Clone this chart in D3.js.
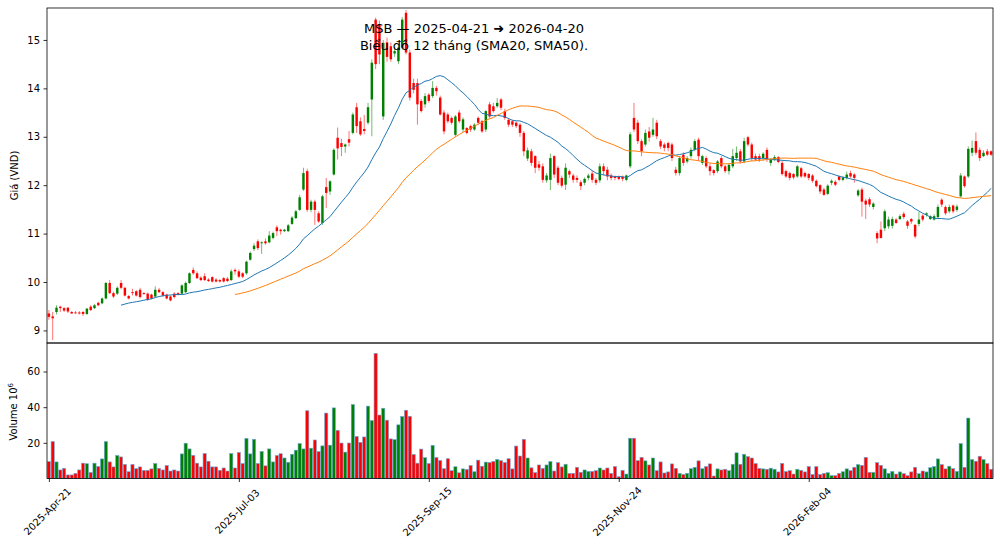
<!DOCTYPE html>
<html>
<head>
<meta charset="utf-8">
<script src="https://cdn.jsdelivr.net/npm/d3@7"></script>
<style>
  body { margin: 0; background: #fff; }
  text { font-family: "DejaVu Sans", sans-serif; }
</style>
</head>
<body>
<div id="chart"></div>
<script>
const title1 = "MSB — 2025-04-21 ➜ 2026-04-20";
const title2 = "Biểu đồ 12 tháng (SMA20, SMA50).";

// tick positions are bar indexes (trading days)
const tickIdx = [0, 50, 100, 150, 200];
const tickLabels = ["2025-Apr-21", "2025-Jul-03", "2025-Sep-15", "2025-Nov-24", "2026-Feb-04"];

const open = [
  9.35, 9.29, 9.38, 9.49, 9.46, 9.47, 9.38, 9.37, 9.37, 9.38,
  9.34, 9.49, 9.46, 9.57, 9.56, 9.66, 9.98, 9.77, 9.76, 9.98,
  9.88, 9.71, 9.79, 9.81, 9.84, 9.77, 9.76, 9.74, 9.70, 9.84,
  9.79, 9.74, 9.70, 9.76, 9.77, 9.76, 9.79, 9.98, 10.25, 10.18,
  10.09, 10.12, 10.05, 10.10, 10.05, 10.04, 10.08, 10.07, 10.04, 10.25,
  10.22, 10.18, 10.18, 10.46, 10.68, 10.84, 10.80, 10.84, 10.82, 10.91,
  11.13, 11.08, 11.05, 11.05, 11.20, 11.32, 11.49, 11.91, 12.29, 11.49,
  11.66, 11.42, 11.22, 11.96, 11.87, 12.22, 12.98, 12.87, 12.80, 12.95,
  13.08, 13.61, 13.32, 13.16, 13.29, 13.77, 15.42, 15.32, 13.42, 14.95,
  14.87, 14.72, 14.56, 14.84, 15.56, 14.74, 14.11, 14.11, 13.74, 13.67,
  13.87, 13.84, 14.01, 13.81, 13.50, 13.46, 13.39, 13.04, 13.50, 13.15,
  13.18, 13.22, 13.15, 13.39, 13.32, 13.15, 13.67, 13.63, 13.63, 13.77,
  13.53, 13.35, 13.32, 13.29, 13.25, 13.08, 12.55, 12.70, 12.60, 12.43,
  12.39, 12.10, 12.11, 12.60, 12.36, 12.15, 12.01, 12.29, 12.20, 12.15,
  12.06, 12.05, 12.15, 12.24, 12.11, 12.10, 12.39, 12.32, 12.20, 12.18,
  12.17, 12.17, 12.11, 12.39, 13.39, 13.29, 12.91, 12.84, 13.11, 13.04,
  13.29, 12.91, 12.84, 12.87, 12.84, 12.32, 12.25, 12.63, 12.49, 12.60,
  12.73, 12.94, 12.46, 12.56, 12.39, 12.31, 12.29, 12.56, 12.39, 12.29,
  12.39, 12.56, 12.70, 12.49, 12.99, 12.84, 12.60, 12.60, 12.56, 12.73,
  12.46, 12.53, 12.58, 12.46, 12.29, 12.25, 12.23, 12.18, 12.35, 12.25,
  12.23, 12.20, 12.09, 12.00, 11.91, 11.82, 12.05, 12.07, 12.18, 12.11,
  12.15, 12.25, 12.22, 11.79, 11.91, 11.68, 11.71, 11.55, 11.01, 11.08,
  11.11, 11.15, 11.16, 11.29, 11.30, 11.41, 11.25, 11.30, 11.18, 11.20,
  11.37, 11.39, 11.30, 11.29, 11.34, 11.70, 11.55, 11.46, 11.58, 11.49,
  11.77, 12.18, 12.18, 12.67, 12.91, 12.73, 12.60, 12.70, 12.70
];
const high = [
  9.42, 9.38, 9.52, 9.51, 9.48, 9.48, 9.40, 9.40, 9.40, 9.40,
  9.46, 9.52, 9.55, 9.59, 9.68, 10.00, 10.04, 9.80, 9.91, 10.04,
  9.90, 9.73, 9.86, 9.83, 9.88, 9.79, 9.78, 9.76, 9.91, 9.88,
  9.81, 9.76, 9.72, 9.79, 9.79, 9.95, 10.01, 10.20, 10.30, 10.22,
  10.12, 10.18, 10.08, 10.12, 10.08, 10.06, 10.10, 10.10, 10.26, 10.28,
  10.26, 10.20, 10.44, 10.63, 10.80, 10.88, 10.84, 10.90, 11.05, 11.04,
  11.17, 11.10, 11.10, 11.20, 11.36, 11.49, 11.80, 12.36, 12.34, 11.70,
  11.70, 11.46, 11.80, 12.15, 12.10, 12.76, 13.19, 12.96, 12.86, 13.12,
  13.50, 13.70, 13.40, 13.45, 13.70, 14.60, 15.46, 15.40, 15.00, 15.05,
  14.95, 14.85, 14.90, 15.47, 15.62, 14.80, 14.20, 14.20, 13.78, 13.90,
  13.90, 14.15, 14.05, 13.85, 13.55, 13.50, 13.42, 13.45, 13.55, 13.40,
  13.20, 13.25, 13.28, 13.42, 13.35, 13.55, 13.72, 13.70, 13.80, 13.80,
  13.58, 13.38, 13.35, 13.32, 13.28, 13.12, 12.78, 12.75, 12.62, 12.50,
  12.45, 12.25, 12.65, 12.62, 12.40, 12.20, 12.45, 12.32, 12.24, 12.20,
  12.10, 12.16, 12.24, 12.30, 12.15, 12.45, 12.45, 12.38, 12.24, 12.20,
  12.20, 12.20, 12.22, 13.10, 13.70, 13.35, 12.95, 13.15, 13.20, 13.39,
  13.35, 12.95, 12.88, 12.90, 12.88, 12.38, 12.60, 12.68, 12.60, 12.78,
  12.95, 12.98, 12.63, 12.60, 12.45, 12.33, 12.52, 12.60, 12.42, 12.45,
  12.75, 12.80, 12.75, 12.98, 13.02, 12.88, 12.65, 12.65, 12.68, 12.78,
  12.56, 12.62, 12.60, 12.50, 12.32, 12.28, 12.25, 12.42, 12.38, 12.28,
  12.25, 12.23, 12.12, 12.02, 11.95, 12.02, 12.12, 12.10, 12.20, 12.18,
  12.28, 12.30, 12.25, 11.92, 11.95, 11.72, 11.75, 11.65, 11.05, 11.25,
  11.50, 11.35, 11.35, 11.32, 11.40, 11.45, 11.28, 11.32, 11.20, 11.45,
  11.40, 11.44, 11.38, 11.40, 11.60, 11.73, 11.58, 11.60, 11.60, 11.60,
  12.25, 12.20, 12.80, 12.92, 13.09, 12.78, 12.72, 12.75, 12.72
];
const low = [
  9.22, 8.80, 9.33, 9.38, 9.38, 9.36, 9.34, 9.34, 9.33, 9.30,
  9.32, 9.40, 9.44, 9.50, 9.54, 9.64, 9.75, 9.67, 9.73, 9.85,
  9.70, 9.64, 9.72, 9.70, 9.66, 9.74, 9.61, 9.64, 9.68, 9.77,
  9.70, 9.64, 9.60, 9.66, 9.72, 9.74, 9.77, 9.96, 10.15, 10.06,
  10.02, 10.02, 10.00, 9.99, 9.99, 9.99, 9.99, 10.00, 10.02, 10.15,
  10.08, 10.08, 10.15, 10.44, 10.64, 10.66, 10.58, 10.77, 10.80, 10.88,
  10.95, 10.98, 11.03, 11.03, 11.18, 11.30, 11.47, 11.88, 11.45, 11.44,
  11.18, 11.22, 11.18, 11.53, 11.80, 12.20, 12.53, 12.60, 12.67, 12.80,
  13.05, 13.08, 13.02, 13.05, 13.25, 13.01, 14.40, 14.50, 13.35, 14.55,
  14.55, 14.65, 14.50, 14.80, 14.70, 13.75, 13.90, 13.25, 13.50, 13.60,
  13.70, 13.80, 13.85, 13.44, 13.05, 13.28, 13.25, 13.00, 13.28, 13.10,
  13.05, 13.10, 13.12, 13.25, 13.08, 13.10, 13.38, 13.50, 13.60, 13.55,
  13.35, 13.20, 13.20, 13.18, 13.00, 12.60, 12.50, 12.40, 12.25, 12.30,
  12.05, 12.05, 11.90, 12.15, 12.00, 11.95, 11.90, 12.15, 12.05, 12.05,
  11.90, 12.00, 12.10, 12.05, 12.00, 12.05, 12.20, 12.10, 12.10, 12.10,
  12.10, 12.08, 12.08, 12.35, 13.10, 12.85, 12.60, 12.80, 12.90, 13.00,
  12.95, 12.75, 12.70, 12.70, 12.50, 12.20, 12.20, 12.40, 12.45, 12.55,
  12.70, 12.50, 12.42, 12.35, 12.20, 12.20, 12.25, 12.35, 12.25, 12.22,
  12.35, 12.50, 12.45, 12.45, 12.80, 12.50, 12.50, 12.48, 12.50, 12.48,
  12.40, 12.50, 12.45, 12.20, 12.15, 12.10, 12.12, 12.15, 12.15, 12.15,
  12.10, 12.05, 11.95, 11.82, 11.78, 11.80, 12.00, 11.98, 12.08, 12.08,
  12.12, 12.15, 12.05, 11.76, 11.35, 11.30, 11.55, 11.50, 10.80, 10.90,
  11.05, 11.10, 11.10, 11.20, 11.28, 11.30, 11.10, 11.20, 10.90, 11.15,
  11.25, 11.35, 11.28, 11.27, 11.30, 11.55, 11.38, 11.42, 11.42, 11.45,
  11.74, 11.95, 12.15, 12.60, 12.62, 12.50, 12.58, 12.60, 12.60
];
const close = [
  9.28, 9.25, 9.47, 9.46, 9.41, 9.39, 9.35, 9.36, 9.35, 9.34,
  9.45, 9.42, 9.52, 9.52, 9.66, 9.98, 9.77, 9.70, 9.88, 9.88,
  9.72, 9.66, 9.77, 9.72, 9.69, 9.75, 9.63, 9.66, 9.84, 9.79,
  9.72, 9.66, 9.62, 9.69, 9.74, 9.93, 9.98, 10.18, 10.18, 10.08,
  10.04, 10.04, 10.02, 10.01, 10.01, 10.01, 10.01, 10.02, 10.22, 10.22,
  10.11, 10.11, 10.42, 10.60, 10.75, 10.70, 10.82, 10.80, 10.96, 11.01,
  11.05, 11.05, 11.08, 11.17, 11.33, 11.46, 11.75, 12.25, 11.49, 11.66,
  11.49, 11.25, 11.77, 11.84, 12.08, 12.73, 12.76, 12.79, 12.84, 12.88,
  13.46, 13.22, 13.05, 13.12, 13.61, 14.53, 14.50, 14.70, 14.94, 14.65,
  14.60, 14.77, 14.84, 15.42, 14.74, 13.81, 13.97, 13.67, 13.53, 13.84,
  13.74, 14.01, 13.94, 13.46, 13.11, 13.32, 13.29, 13.42, 13.32, 13.36,
  13.08, 13.15, 13.25, 13.29, 13.11, 13.53, 13.42, 13.53, 13.70, 13.60,
  13.39, 13.25, 13.25, 13.22, 13.08, 12.70, 12.72, 12.46, 12.36, 12.36,
  12.11, 12.20, 12.56, 12.22, 12.05, 11.99, 12.36, 12.22, 12.11, 12.11,
  11.98, 12.13, 12.20, 12.11, 12.05, 12.39, 12.29, 12.18, 12.15, 12.15,
  12.13, 12.13, 12.20, 13.05, 13.15, 12.91, 12.70, 13.08, 12.98, 13.15,
  13.01, 12.80, 12.77, 12.77, 12.56, 12.25, 12.56, 12.46, 12.56, 12.73,
  12.91, 12.60, 12.60, 12.39, 12.29, 12.25, 12.49, 12.39, 12.29, 12.42,
  12.60, 12.67, 12.49, 12.91, 12.84, 12.56, 12.53, 12.53, 12.65, 12.53,
  12.53, 12.58, 12.48, 12.23, 12.18, 12.15, 12.16, 12.39, 12.18, 12.18,
  12.15, 12.09, 11.98, 11.87, 11.80, 11.99, 12.09, 12.01, 12.11, 12.16,
  12.22, 12.18, 12.15, 11.89, 11.66, 11.60, 11.60, 11.62, 10.90, 10.91,
  11.46, 11.29, 11.30, 11.22, 11.36, 11.34, 11.16, 11.25, 10.94, 11.29,
  11.29, 11.42, 11.36, 11.36, 11.55, 11.60, 11.42, 11.55, 11.46, 11.56,
  12.20, 11.98, 12.75, 12.77, 12.67, 12.56, 12.67, 12.63, 12.63
];
// volume in millions of shares
const volume = [
  9.5, 20.7, 9.3, 4.8, 5.7, 2.0, 2.0, 2.9, 4.8, 8.6,
  8.3, 3.4, 8.6, 6.7, 11.0, 20.7, 9.3, 6.5, 12.9, 12.1,
  7.9, 3.8, 7.9, 5.5, 6.5, 4.6, 4.6, 5.4, 8.4, 5.7,
  4.8, 7.3, 4.2, 4.8, 4.2, 13.8, 19.8, 16.6, 13.0, 8.6,
  6.5, 14.0, 9.7, 6.5, 6.5, 4.6, 5.9, 4.2, 14.0, 5.9,
  14.6, 8.4, 22.5, 13.8, 22.0, 8.4, 15.2, 7.1, 16.6, 9.3,
  12.9, 13.9, 11.5, 9.1, 13.6, 15.9, 19.6, 16.6, 38.0, 17.0,
  21.6, 15.1, 18.3, 36.7, 18.7, 39.6, 27.0, 19.9, 14.8, 19.9,
  41.5, 23.6, 20.3, 23.3, 40.6, 32.5, 70.2, 35.6, 39.4, 32.7,
  22.2, 21.8, 30.1, 34.8, 38.3, 34.9, 13.5, 8.6, 16.5, 11.7,
  8.4, 18.6, 11.8, 10.1, 5.5, 11.1, 4.4, 6.6, 3.2, 5.4,
  5.1, 7.3, 3.8, 10.3, 6.9, 9.2, 9.0, 9.6, 10.7, 10.0,
  9.0, 11.1, 5.4, 18.2, 12.6, 22.0, 11.5, 6.0, 3.3, 7.6,
  5.7, 7.6, 9.5, 4.2, 8.9, 6.5, 8.0, 2.9, 2.9, 6.3,
  3.5, 4.8, 4.0, 4.0, 4.4, 5.9, 4.8, 5.9, 2.9, 6.7,
  1.0, 4.6, 2.5, 22.6, 22.6, 10.0, 11.9, 9.9, 7.6, 11.5,
  4.4, 9.3, 3.1, 3.7, 8.2, 5.7, 2.9, 2.3, 2.9, 5.5,
  6.3, 9.9, 5.5, 6.7, 8.2, 1.4, 5.4, 4.8, 5.2, 4.4,
  8.0, 14.4, 8.0, 13.6, 12.3, 11.5, 8.4, 5.7, 5.4, 5.2,
  5.8, 5.2, 3.7, 8.5, 3.9, 4.4, 2.5, 5.2, 4.6, 3.7,
  6.7, 2.3, 6.7, 2.3, 2.9, 3.3, 1.6, 1.6, 2.9, 3.8,
  5.4, 4.4, 6.3, 7.8, 7.4, 11.9, 3.5, 3.5, 8.9, 7.4,
  5.4, 2.9, 4.0, 2.5, 3.7, 2.7, 1.6, 3.7, 6.3, 2.7,
  4.2, 3.7, 6.1, 6.7, 11.0, 7.8, 5.4, 6.9, 5.5, 4.0,
  19.6, 6.3, 33.9, 10.6, 9.7, 12.5, 10.6, 8.4, 5.2
];

const priceTicks = [9, 10, 11, 12, 13, 14, 15];
const volTicks = [20, 40, 60];

const W = 1000, H = 551;
const left = 47, right = 993;
const pTop = 8, pBot = 343, vTop = 343, vBot = 478.5;

const data = close.map((c, i) => ({ i, o: open[i], h: high[i], l: low[i], c, v: volume[i] }));

const sma = (n) => data.map((d, i) => i < n - 1 ? null : d3.mean(close.slice(i - n + 1, i + 1)));
const sma20 = sma(20), sma50 = sma(50);

const x = d3.scaleLinear().domain([-0.5, data.length - 0.5]).range([left, right]);
const y = d3.scaleLinear().domain([8.74, 15.66]).range([pBot, pTop]);
const yv = d3.scaleLinear().domain([0, 76]).range([vBot, vTop]);
const step = x(1) - x(0);

const up = "#008000", down = "#ff0000";
const col = d => d.c >= d.o ? up : down;

const svg = d3.select("#chart").append("svg")
  .attr("width", W)
  .attr("height", H)
  .style("display", "block");

svg.append("rect").attr("width", W).attr("height", H).attr("fill", "#fff");

// --- price panel
const gP = svg.append("g");

gP.append("g").selectAll("line")
  .data(data).enter().append("line")
  .attr("x1", d => x(d.i)).attr("x2", d => x(d.i))
  .attr("y1", d => y(d.h)).attr("y2", d => y(d.l))
  .attr("stroke", col)
  .attr("stroke-opacity", 0.55)
  .attr("stroke-width", 1);

gP.append("g").selectAll("rect")
  .data(data).enter().append("rect")
  .attr("x", d => x(d.i) - step * 0.32)
  .attr("width", step * 0.64)
  .attr("y", d => y(Math.max(d.o, d.c)))
  .attr("height", d => Math.max(0.8, Math.abs(y(d.o) - y(d.c))))
  .attr("fill", col);

const line = d3.line()
  .defined(d => d != null)
  .x((d, i) => x(i))
  .y(d => y(d));

gP.append("path").datum(sma20)
  .attr("d", line)
  .attr("fill", "none")
  .attr("stroke", "#1f77b4")
  .attr("stroke-width", 1);

gP.append("path").datum(sma50)
  .attr("d", line)
  .attr("fill", "none")
  .attr("stroke", "#ff7f0e")
  .attr("stroke-width", 1);

const yAxis = d3.axisLeft(y).tickValues(priceTicks).tickFormat(d3.format("d"))
  .tickSize(3.5).tickPadding(3.5);
gP.append("g")
  .attr("transform", `translate(${left},0)`)
  .call(yAxis)
  .call(g => g.select(".domain").remove())
  .call(g => g.selectAll("text").attr("font-size", 10).attr("fill", "#000").attr("font-family", "DejaVu Sans"))
  .call(g => g.selectAll("line").attr("stroke", "#000").attr("stroke-width", 0.8));

gP.append("rect")
  .attr("x", left).attr("y", pTop)
  .attr("width", right - left).attr("height", pBot - pTop)
  .attr("fill", "none").attr("stroke", "#000").attr("stroke-width", 0.8);

gP.append("text")
  .attr("transform", `translate(18,${(pTop + pBot) / 2}) rotate(-90)`)
  .attr("text-anchor", "middle")
  .attr("font-size", 10)
  .text("Giá (VND)");

// title
svg.append("text").attr("x", 474).attr("y", 33)
  .attr("text-anchor", "middle").attr("font-size", 13).text(title1);
svg.append("text").attr("x", 474).attr("y", 50)
  .attr("text-anchor", "middle").attr("font-size", 13).text(title2);

// --- volume panel
const gV = svg.append("g");

gV.append("g").selectAll("rect")
  .data(data).enter().append("rect")
  .attr("x", d => x(d.i) - step * 0.42)
  .attr("width", step * 0.84)
  .attr("y", d => yv(d.v))
  .attr("height", d => yv(0) - yv(d.v))
  .attr("fill", col)
  .attr("stroke", "#6fa8dc")
  .attr("stroke-width", 0.6);

const vAxis = d3.axisLeft(yv).tickValues(volTicks).tickSize(3.5).tickPadding(3.5);
gV.append("g")
  .attr("transform", `translate(${left},0)`)
  .call(vAxis)
  .call(g => g.select(".domain").remove())
  .call(g => g.selectAll("text").attr("font-size", 10).attr("fill", "#000").attr("font-family", "DejaVu Sans"))
  .call(g => g.selectAll("line").attr("stroke", "#000").attr("stroke-width", 0.8));

// rotated labels, centred under their tick as in the source chart
const xAxis = d3.axisBottom(x).tickValues(tickIdx)
  .tickFormat((d, k) => tickLabels[k]).tickSize(3.5);
gV.append("g")
  .attr("transform", `translate(0,${vBot})`)
  .call(xAxis)
  .call(g => g.select(".domain").remove())
  .call(g => g.selectAll("line").attr("stroke", "#000").attr("stroke-width", 0.8))
  .call(g => g.selectAll("text")
    .attr("font-size", 10).attr("fill", "#000").attr("font-family", "DejaVu Sans")
    .attr("text-anchor", "middle")
    .attr("y", 0).attr("dy", "0.35em")
    .attr("transform", "translate(-2,33) rotate(-45)"));

gV.append("rect")
  .attr("x", left).attr("y", vTop)
  .attr("width", right - left).attr("height", vBot - vTop)
  .attr("fill", "none").attr("stroke", "#000").attr("stroke-width", 0.8);

const vl = gV.append("text")
  .attr("transform", `translate(17,${(vTop + vBot) / 2 + 1}) rotate(-90)`)
  .attr("text-anchor", "middle")
  .attr("font-size", 10);
vl.append("tspan").text("Volume  10");
vl.append("tspan").attr("font-size", 7).attr("dy", -4).text("6");
</script>
</body>
</html>
